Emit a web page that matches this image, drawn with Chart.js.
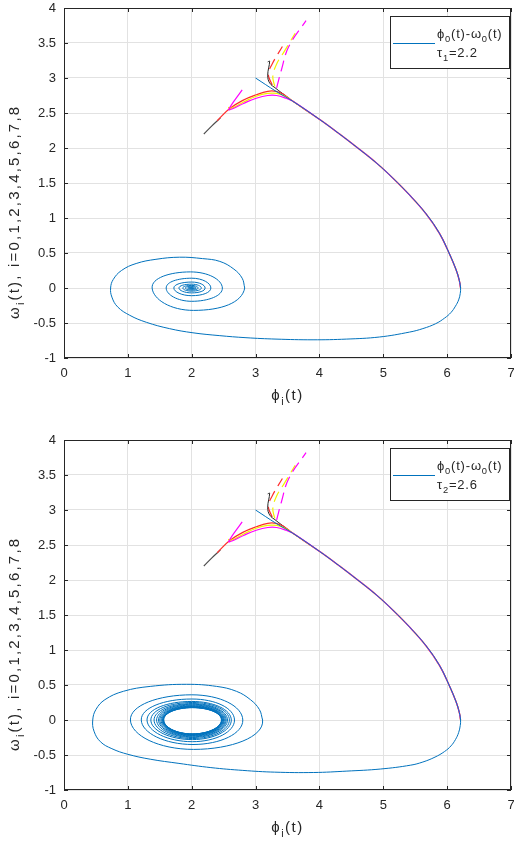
<!DOCTYPE html>
<html>
<head>
<meta charset="utf-8">
<script src="https://cdn.jsdelivr.net/npm/chart.js@4.4.0/dist/chart.umd.min.js"></script>
<style>
  html, body { margin: 0; padding: 0; background: #fff; }
  .plot { position: absolute; left: 0; width: 514px; height: 420px; }
  #top { top: 0; }
  #bottom { top: 432px; }
</style>
</head>
<body>
<div class="plot" id="top"><canvas id="chartTau1" width="514" height="420"></canvas></div>
<div class="plot" id="bottom"><canvas id="chartTau2" width="514" height="420"></canvas></div>
<script>
// Axis ticks
const phiTicks = [0, 1, 2, 3, 4, 5, 6, 7];
const omegaTicks = [-1, -0.5, 0, 0.5, 1, 1.5, 2, 2.5, 3, 3.5, 4];
const tauValues = [2.2, 2.6];

// phi_0 / omega_0 start, before the curves merge
const phi0Start = [[3.00, 3.00], [3.32, 2.81]];

// common descent down to the right-hand turn (all curves share it)
const trunk = [[3.58, 2.67], [4.00, 2.41], [4.30, 2.21], [4.60, 2.00], [4.90, 1.78],
  [5.15, 1.57], [5.41, 1.33], [5.67, 1.06], [5.88, 0.78], [6.03, 0.50], [6.14, 0.26],
  [6.19, 0.11], [6.21, 0.00]];

// big swing back to the left, tau_1
const swingTau1 = [[6.205, -0.08], [6.18, -0.17], [6.13, -0.26], [6.06, -0.35], [5.96, -0.43],
  [5.82, -0.51], [5.62, -0.58], [5.41, -0.63], [4.94, -0.70], [4.42, -0.73], [3.90, -0.74],
  [3.32, -0.73], [2.85, -0.71], [2.43, -0.68], [2.02, -0.64], [1.65, -0.58], [1.29, -0.49],
  [1.03, -0.39], [0.84, -0.27], [0.75, -0.13], [0.73, 0.00], [0.77, 0.12], [0.90, 0.25],
  [1.13, 0.35], [1.44, 0.41], [1.81, 0.44], [2.17, 0.42], [2.44, 0.38], [2.66, 0.27],
  [2.79, 0.14], [2.83, 0.00]];

// spiral into the equilibrium, tau_1 (right, bottom, left, top ...)
const spiralTau1 = [[2.17, 0.42], [2.83, 0], [2.03, -0.32], [1.38, 0], [1.98, 0.23], [2.48, 0],
  [2.0, -0.19], [1.60, 0], [2.0, 0.14], [2.30, 0], [2.0, -0.11], [1.72, 0], [2.0, 0.085],
  [2.21, 0], [2.0, -0.07], [1.80, 0], [2.0, 0.055], [2.15, 0], [2.0, -0.045], [1.86, 0],
  [2.0, 0.037], [2.10, 0], [2.0, -0.03], [1.90, 0], [2.0, 0.024], [2.07, 0], [2.0, -0.018],
  [1.935, 0], [2.0, 0.014], [2.045, 0], [2.0, -0.01], [1.96, 0], [2.0, 0.007], [2.025, 0],
  [2.0, -0.005], [1.98, 0], [2.0, 0.003]];

// big swing back to the left, tau_2
const swingTau2 = [[6.205, -0.08], [6.18, -0.18], [6.13, -0.28], [6.06, -0.37], [5.96, -0.45],
  [5.81, -0.53], [5.62, -0.60], [5.43, -0.645], [4.96, -0.70], [4.43, -0.73], [3.91, -0.75],
  [3.30, -0.745], [2.80, -0.72], [2.30, -0.68], [1.80, -0.62], [1.35, -0.56], [1.00, -0.49],
  [0.75, -0.41], [0.57, -0.31], [0.47, -0.16], [0.45, 0.00], [0.50, 0.15], [0.64, 0.29],
  [0.93, 0.41], [1.35, 0.48], [1.92, 0.51], [2.39, 0.48], [2.70, 0.41], [2.92, 0.29],
  [3.06, 0.15], [3.11, 0.00]];

// rings settling onto the limit cycle, tau_2
const spiralTau2 = [[1.92, 0.51], [3.11, 0], [2.03, -0.42], [1.04, 0], [2.0, 0.36], [2.80, 0],
  [2.02, -0.35], [1.21, 0], [2.0, 0.30], [2.67, 0], [2.01, -0.31], [1.30, 0], [2.0, 0.265],
  [2.62, 0], [2.01, -0.28], [1.36, 0], [2.01, 0.25], [2.59, 0], [2.01, -0.265], [1.41, 0],
  [2.01, 0.235], [2.56, 0], [2.01, -0.25], [1.45, 0], [2.01, 0.225], [2.54, 0], [2.01, -0.24],
  [1.48, 0], [2.01, 0.215], [2.525, 0], [2.01, -0.23], [1.50, 0], [2.01, 0.205], [2.51, 0],
  [2.01, -0.222], [1.52, 0], [2.01, 0.198], [2.50, 0], [2.01, -0.216], [1.535, 0],
  [2.01, 0.192], [2.49, 0], [2.01, -0.21], [1.545, 0], [2.01, 0.187], [2.48, 0],
  [2.01, -0.206], [1.55, 0], [2.01, 0.183], [2.475, 0], [2.01, -0.203], [1.555, 0],
  [2.01, 0.18], [2.47, 0], [2.01, -0.2], [1.56, 0], [2.01, 0.178], [2.468, 0], [2.01, -0.2],
  [1.56, 0], [2.01, 0.176], [2.465, 0], [2.01, -0.2], [1.56, 0], [2.01, 0.176]];

// the other oscillators, before they join the trunk
const grayHead = [[2.19, 2.20], [2.32, 2.32], [2.45, 2.43]];
const redHead = [[2.40, 2.39], [2.59, 2.56], [2.80, 2.68], [3.01, 2.76], [3.19, 2.81],
  [3.32, 2.81], [3.43, 2.77]];
const yellowHead = [[2.57, 2.58], [2.63, 2.57], [2.82, 2.66], [3.01, 2.74], [3.19, 2.78],
  [3.33, 2.78], [3.46, 2.74]];
const magentaHead = [[2.79, 2.83], [2.58, 2.55], [2.64, 2.56], [2.82, 2.64], [3.01, 2.71],
  [3.19, 2.75], [3.33, 2.75], [3.48, 2.71]];
const blackHead = [[3.19, 3.23], [3.22, 3.24], [3.19, 3.04], [3.22, 2.93], [3.32, 2.85],
  [3.45, 2.76]];
const redDash = [[3.26, 2.90], [3.20, 3.05], [3.26, 3.20], [3.42, 3.45]];
const yellowDash = [[3.30, 2.88], [3.27, 3.02], [3.33, 3.20], [3.45, 3.38], [3.62, 3.64]];
const magentaDash = [[3.33, 2.86], [3.40, 3.10], [3.52, 3.45], [3.79, 3.82]];

const FONT = '"Liberation Sans", Arial, sans-serif';
const INK = '#262626';
const BLUE = '#0072bd';
const HIDDEN = 'rgba(0,0,0,0)';

const toXY = pts => pts.map(([p, w]) => ({ x: p, y: w }));

function line(pts, color, extra) {
  return Object.assign({
    data: toXY(pts), showLine: true, borderColor: color, borderWidth: 1,
    pointRadius: 0, tension: 0.4, fill: false
  }, extra || {});
}

// spiral rings: first and last points only steer the curve, they are not drawn
function ringLine(pts) {
  const last = pts.length - 1;
  return line(pts, BLUE, {
    tension: 0.55,
    segment: {
      borderColor: c => (c.p0DataIndex === 0 || c.p1DataIndex === last) ? HIDDEN : undefined
    }
  });
}

// text with subscripts: parts = [[text, isSub], ...]
function richWidth(ctx, parts, size) {
  let w = 0;
  parts.forEach(([t, sub]) => {
    ctx.font = (sub ? size * 0.72 : size) + 'px ' + FONT;
    w += ctx.measureText(t).width;
  });
  return w;
}

function drawRich(ctx, parts, x, y, size) {
  parts.forEach(([t, sub]) => {
    ctx.font = (sub ? size * 0.72 : size) + 'px ' + FONT;
    ctx.fillText(t, x, y + (sub ? size * 0.3 : 0));
    x += ctx.measureText(t).width;
  });
  return x;
}

const frame = {
  id: 'frame',
  afterDraw(chart, args, opts) {
    const { ctx, chartArea: a, scales: { x, y } } = chart;
    ctx.save();
    ctx.strokeStyle = INK;
    ctx.lineWidth = 1;
    ctx.beginPath();
    x.ticks.forEach(t => {
      const px = Math.round(x.getPixelForValue(t.value)) + 0.5;
      ctx.moveTo(px, a.bottom); ctx.lineTo(px, a.bottom - 4);
      ctx.moveTo(px, a.top); ctx.lineTo(px, a.top + 4);
    });
    y.ticks.forEach(t => {
      const py = Math.round(y.getPixelForValue(t.value)) + 0.5;
      ctx.moveTo(a.left, py); ctx.lineTo(a.left + 4, py);
      ctx.moveTo(a.right, py); ctx.lineTo(a.right - 4, py);
    });
    ctx.stroke();
    ctx.strokeRect(Math.round(a.left) + 0.5, Math.round(a.top) + 0.5,
      Math.round(a.width) - 1, Math.round(a.height) - 1);

    // axis titles
    ctx.fillStyle = INK;
    ctx.textBaseline = 'alphabetic';
    ctx.textAlign = 'left';
    ctx.letterSpacing = '1.5px';
    const xt = [['\u03d5', false], ['i', true], ['(t)', false]];
    const w = richWidth(ctx, xt, 15);
    drawRich(ctx, xt, (a.left + a.right) / 2 - w / 2, a.bottom + 42, 15);

    ctx.letterSpacing = '2.2px';
    ctx.save();
    ctx.translate(19, a.top + 311);
    ctx.rotate(-Math.PI / 2);
    drawRich(ctx, [['\u03c9', false], ['i', true], ['(t), i=0,1,2,3,4,5,6,7,8', false]], 0, 0, 15);
    ctx.restore();

    // legend box
    ctx.letterSpacing = '0.8px';
    const lx = a.right - 121, ly = a.top + 8;
    ctx.fillStyle = '#fff';
    ctx.fillRect(lx, ly, 119, 52);
    ctx.strokeRect(lx + 0.5, ly + 0.5, 119, 52);
    ctx.strokeStyle = BLUE;
    ctx.beginPath();
    ctx.moveTo(lx + 3, ly + 27.5);
    ctx.lineTo(lx + 45, ly + 27.5);
    ctx.stroke();
    ctx.fillStyle = INK;
    drawRich(ctx, [['\u03d5', false], ['0', true], ['(t)-', false], ['\u03c9', false], ['0', true], ['(t)', false]],
      lx + 47, ly + 22, 13);
    drawRich(ctx, [['\u03c4', false], [opts.tauIndex, true], ['=' + opts.tau, false]], lx + 47, ly + 41, 13);
    ctx.restore();
  }
};

function makeChart(id, swing, spiral, tauIndex, tau) {
  const tickFont = { family: FONT, size: 13 };
  new Chart(document.getElementById(id), {
    type: 'scatter',
    data: {
      datasets: [
        line(phi0Start.concat(trunk, swing), BLUE),
        ringLine(spiral),
        line(magentaHead.concat(trunk), '#ff00ff', { borderWidth: 1.2 }),
        line(yellowHead.concat(trunk), '#f2f200', { borderWidth: 1.2 }),
        line(redHead.concat(trunk), '#ff2d2d', { borderWidth: 1.2 }),
        line(blackHead.concat(trunk.slice(0, 2)), '#262626'),
        line(magentaDash, '#ff00ff', { borderDash: [11, 6], borderWidth: 1.2 }),
        line(yellowDash, '#f2f200', { borderDash: [11, 6], borderWidth: 1.2 }),
        line(redDash, '#ff2d2d', { borderDash: [11, 6], borderWidth: 1.2 }),
        line(grayHead, '#4d4d4d', { borderWidth: 1.2 })
      ]
    },
    options: {
      responsive: false,
      animation: false,
      layout: { padding: { top: 8, right: 3, left: 0, bottom: 0 } },
      plugins: {
        legend: { display: false },
        tooltip: { enabled: false },
        frame: { tauIndex: tauIndex, tau: tau }
      },
      scales: {
        x: {
          type: 'linear', min: 0, max: 7,
          afterBuildTicks: s => { s.ticks = phiTicks.map(v => ({ value: v })); },
          afterFit: s => { s.height = 62; s.paddingLeft = 0; s.paddingRight = 0; },
          grid: { color: '#e2e2e2', drawTicks: false },
          border: { display: false },
          ticks: { padding: 8, color: INK, font: tickFont, callback: v => String(v) }
        },
        y: {
          type: 'linear', min: -1, max: 4,
          afterBuildTicks: s => { s.ticks = omegaTicks.map(v => ({ value: v })); },
          afterFit: s => { s.width = 64; s.paddingTop = 0; s.paddingBottom = 0; },
          grid: { color: '#e2e2e2', drawTicks: false },
          border: { display: false },
          ticks: { padding: 8, color: INK, font: tickFont, callback: v => String(v) }
        }
      }
    },
    plugins: [frame]
  });
}

makeChart('chartTau1', swingTau1, spiralTau1, '1', tauValues[0]);
makeChart('chartTau2', swingTau2, spiralTau2, '2', tauValues[1]);
</script>
</body>
</html>
